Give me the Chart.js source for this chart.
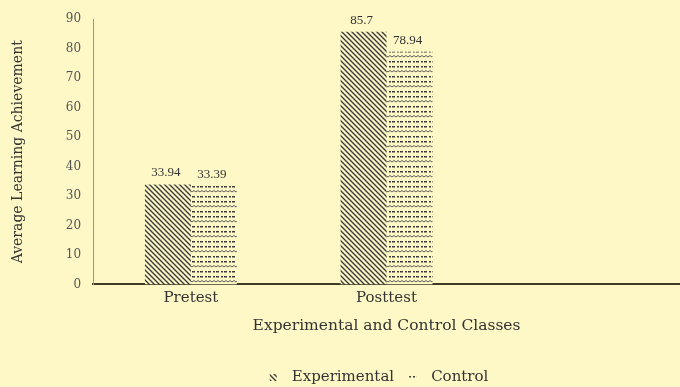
<!DOCTYPE html>
<html>
<head>
<meta charset="utf-8">
<script src="https://cdn.jsdelivr.net/npm/chart.js@4"></script>
<style>
  html, body { margin: 0; padding: 0; background: #fdf8c6; }
  #wrap { width: 680px; height: 387px; }
</style>
</head>
<body>
<div id="wrap"><canvas id="achChart"></canvas></div>
<script>
let labels = ["Pretest", "Posttest", ""];
let experimental = [33.94, 85.7, null];
let control = [33.39, 78.94, null];
let yTicks = [0, 10, 20, 30, 40, 50, 60, 70, 80, 90];

// hatch patterns like the office-style fills
function hatchPattern() {
  let c = document.createElement("canvas");
  c.width = 5; c.height = 5;
  let g = c.getContext("2d");
  g.fillStyle = "#fdf8c6";
  g.fillRect(0, 0, 5, 5);
  g.strokeStyle = "#3d3d3d";
  g.lineWidth = 1.4;
  g.beginPath();
  g.moveTo(-1, -1); g.lineTo(6, 6);
  g.moveTo(-1, 4); g.lineTo(1, 6);
  g.moveTo(4, -1); g.lineTo(6, 1);
  g.stroke();
  return g.createPattern(c, "repeat");
}

function dashPattern() {
  let c = document.createElement("canvas");
  c.width = 8; c.height = 15;
  let g = c.getContext("2d");
  g.fillStyle = "#fdf8c6";
  g.fillRect(0, 0, 8, 15);
  g.fillStyle = "#3d3d3d";
  g.fillRect(0, 1, 3, 1.5);
  g.fillRect(5, 1, 2, 1.5);
  g.fillRect(0, 6, 3, 1.5);
  g.fillRect(5, 6, 2, 1.5);
  // wavy row
  g.strokeStyle = "#5a5a5a";
  g.lineWidth = 1;
  g.beginPath();
  g.moveTo(0, 12);
  g.lineTo(2, 10.5); g.lineTo(4, 12); g.lineTo(6, 10.5); g.lineTo(8, 12);
  g.stroke();
  return g.createPattern(c, "repeat");
}

const valueLabels = {
  id: "valueLabels",
  afterDatasetsDraw(chart) {
    let ctx = chart.ctx;
    ctx.save();
    ctx.font = "13px 'Liberation Serif', serif";
    ctx.fillStyle = "#333";
    ctx.textAlign = "center";
    ctx.textBaseline = "bottom";
    chart.data.datasets.forEach((ds, i) => {
      chart.getDatasetMeta(i).data.forEach((bar, j) => {
        if (ds.data[j] == null) return;
        ctx.fillText(String(ds.data[j]), bar.x - 2, bar.y - 5);
      });
    });
    ctx.restore();
  }
};

let serif = "'DejaVu Serif', serif";
let ctx = document.getElementById("achChart").getContext("2d");

let myChart = new Chart(ctx, {
  type: "bar",
  data: {
    labels: labels,
    datasets: [
      {
        label: "Experimental",
        data: experimental,
        backgroundColor: hatchPattern(),
        borderWidth: 0,
        categoryPercentage: 0.47,
        barPercentage: 1.0
      },
      {
        label: "Control",
        data: control,
        backgroundColor: dashPattern(),
        borderWidth: 0,
        categoryPercentage: 0.47,
        barPercentage: 1.0
      }
    ]
  },
  options: {
    responsive: true,
    maintainAspectRatio: false,
    animation: false,
    layout: { padding: { top: -4, right: 0, left: 10, bottom: -8 } },
    plugins: {
      tooltip: { enabled: false },
      legend: {
        position: "bottom",
        fullSize: false,
        labels: {
          font: { family: serif, size: 15 },
          color: "#333",
          boxWidth: 7,
          boxHeight: 7,
          padding: 0,
          generateLabels: (chart) => {
            let items = Chart.defaults.plugins.legend.labels.generateLabels(chart);
            items.forEach(it => { it.text = "\u2002" + it.text + "\u2002\u2002"; });
            return items;
          }
        }
      }
    },
    scales: {
      x: {
        grid: { display: false, drawTicks: false },
        border: { color: "#3e3b22", width: 2 },
        ticks: { font: { family: serif, size: 15 }, color: "#333", padding: 5 },
        title: {
          display: true,
          text: "Experimental and Control Classes",
          font: { family: serif, size: 15.5 },
          color: "#333",
          padding: { top: 4, bottom: 35 }
        }
      },
      y: {
        min: 0,
        max: 90,
        afterBuildTicks: (axis) => { axis.ticks = yTicks.map(v => ({ value: v })); },
        grid: { display: false, drawTicks: false },
        border: { color: "#9a9680", width: 1 },
        ticks: { font: { family: serif, size: 12 }, color: "#555", padding: 12 },
        title: {
          display: true,
          text: "Average Learning Achievement",
          font: { family: serif, size: 14 },
          color: "#333",
          padding: { top: 0, bottom: 27 }
        }
      }
    }
  },
  plugins: [valueLabels]
});
</script>
</body>
</html>
